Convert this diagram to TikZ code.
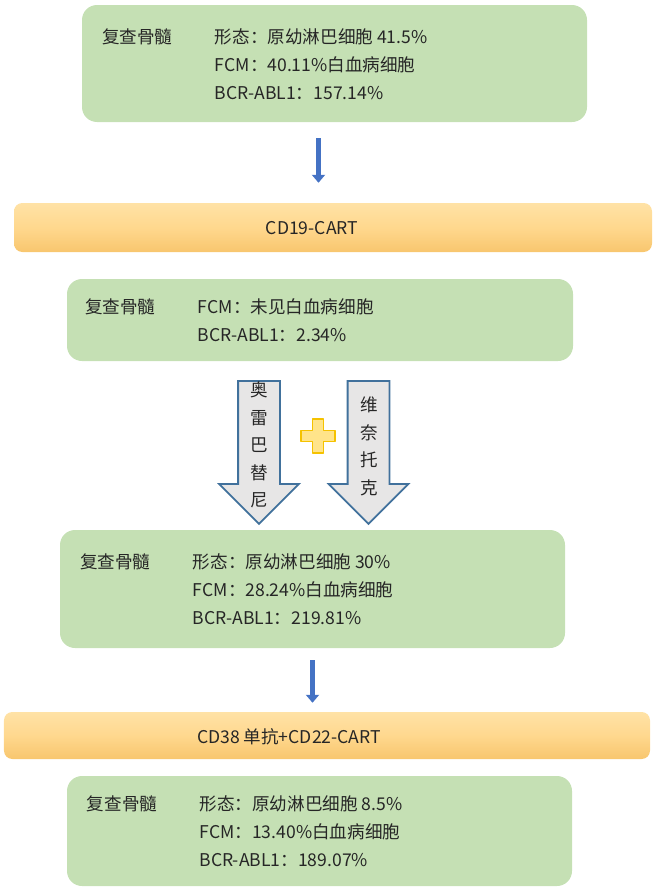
\documentclass[tikz,border=0pt]{standalone}
\usepackage{fontspec}
\setmainfont{Noto Sans CJK SC}
\usetikzlibrary{positioning,arrows.meta,shapes.arrows}
\definecolor{resgreen}{HTML}{C5E0B4}
\definecolor{trtorange}{HTML}{FFD88E}
\definecolor{trtlight}{HTML}{FFE2A6}
\definecolor{trtdark}{HTML}{F8C66E}
\definecolor{arrblue}{HTML}{4472C4}
\definecolor{blkfill}{HTML}{E7E6E6}
\definecolor{blkline}{HTML}{41719C}
\definecolor{plusfill}{HTML}{FFE48A}
\definecolor{plusline}{HTML}{F5C200}
\definecolor{txtgray}{HTML}{262626}

\begin{document}
\begin{tikzpicture}[
  font=\fontsize{15}{24}\selectfont, text=txtgray,
  res/.style={fill=resgreen, rounded corners=0.45cm, inner sep=0pt},
  trt/.style={rounded corners=0.25cm, inner sep=0pt,
    top color=trtlight, bottom color=trtdark, middle color=trtorange},
  lab/.style={anchor=west, inner sep=0pt},
  det/.style={align=left, inner sep=0pt},
  arr/.style={-{Triangle[width=0.39cm, length=0.24cm]}, line width=0.15cm, arrblue},
  blk/.style={single arrow, shape border rotate=270, draw=blkline, line width=1.5pt,
    fill=blkfill, minimum width=2.34cm, minimum height=4.29cm,
    single arrow head extend=0.57cm, inner sep=0.6cm},
  drug/.style={align=center, inner sep=0pt, font=\fontsize{15}{23.5}\selectfont},
  plus/.style={fill=plusfill, draw=plusline, line width=1pt, line join=round}
]
\useasboundingbox (0,0) rectangle (20.01,-26.73);

% first check
\node[res, minimum width=15.15cm, minimum height=3.51cm] (b1) at (10.035,-1.905) {};
\node[lab] (l1) at (3.06,-1.1) {复查骨髓};
\node[det, right=1.26cm of l1.north east, anchor=north west] (d1)
  {形态：原幼淋巴细胞 41.5\%\\FCM：40.11\%白血病细胞\\BCR-ABL1：157.14\%};

\node[trt, minimum width=19.14cm, minimum height=1.47cm] (t1) at (9.99,-6.825) {};
\node (c1) at (9.36,-6.84) {CD19-CART};
\coordinate (a1) at (9.555,0);
\draw[arr, shorten <=0.48cm, shorten >=0.6cm] (b1.south -| a1) -- (t1.north -| a1);

% second check
\node[res, minimum width=15.18cm, minimum height=2.46cm] (b2) at (9.6,-9.6) {};
\node[lab] (l2) at (2.55,-9.21) {复查骨髓};
\node[det, right=1.26cm of l2.north east, anchor=north west] (d2)
  {FCM：未见白血病细胞\\BCR-ABL1：2.34\%};

% drugs
\node[blk] (o1) at (7.77,-13.26) {};
\node[drug] (o1t) at (7.77,-13.35) {奥\\雷\\巴\\替\\尼};
\node[blk] (o2) at (11.055,-13.26) {};
\node[drug] (o2t) at (11.07,-13.395) {维\\奈\\托\\克};
\draw[plus, shift={(9.54,-13.08)}] (-0.165,0.51) -- (0.165,0.51) -- (0.165,0.165)
  -- (0.51,0.165) -- (0.51,-0.165) -- (0.165,-0.165) -- (0.165,-0.51)
  -- (-0.165,-0.51) -- (-0.165,-0.165) -- (-0.51,-0.165) -- (-0.51,0.165)
  -- (-0.165,0.165) -- cycle;

% third check
\node[res, minimum width=15.15cm, minimum height=3.54cm] (b3) at (9.375,-17.67) {};
\node[lab] (l3) at (2.4,-16.845) {复查骨髓};
\node[det, right=1.26cm of l3.north east, anchor=north west] (d3)
  {形态：原幼淋巴细胞 30\%\\FCM：28.24\%白血病细胞\\BCR-ABL1：219.81\%};

\node[trt, minimum width=19.38cm, minimum height=1.41cm] (t2) at (9.81,-22.065) {};
\node (c2) at (8.67,-22.11) {CD38 单抗+CD22-CART};
\coordinate (a2) at (9.375,0);
\draw[arr, shorten <=0.36cm, shorten >=0.27cm] (b3.south -| a2) -- (t2.north -| a2);

% fourth check
\node[res, minimum width=15.15cm, minimum height=3.3cm] (b4) at (9.585,-24.93) {};
\node[lab] (l4) at (2.6,-24.12) {复查骨髓};
\node[det, right=1.26cm of l4.north east, anchor=north west] (d4)
  {形态：原幼淋巴细胞 8.5\%\\FCM：13.40\%白血病细胞\\BCR-ABL1：189.07\%};
\end{tikzpicture}
\end{document}
